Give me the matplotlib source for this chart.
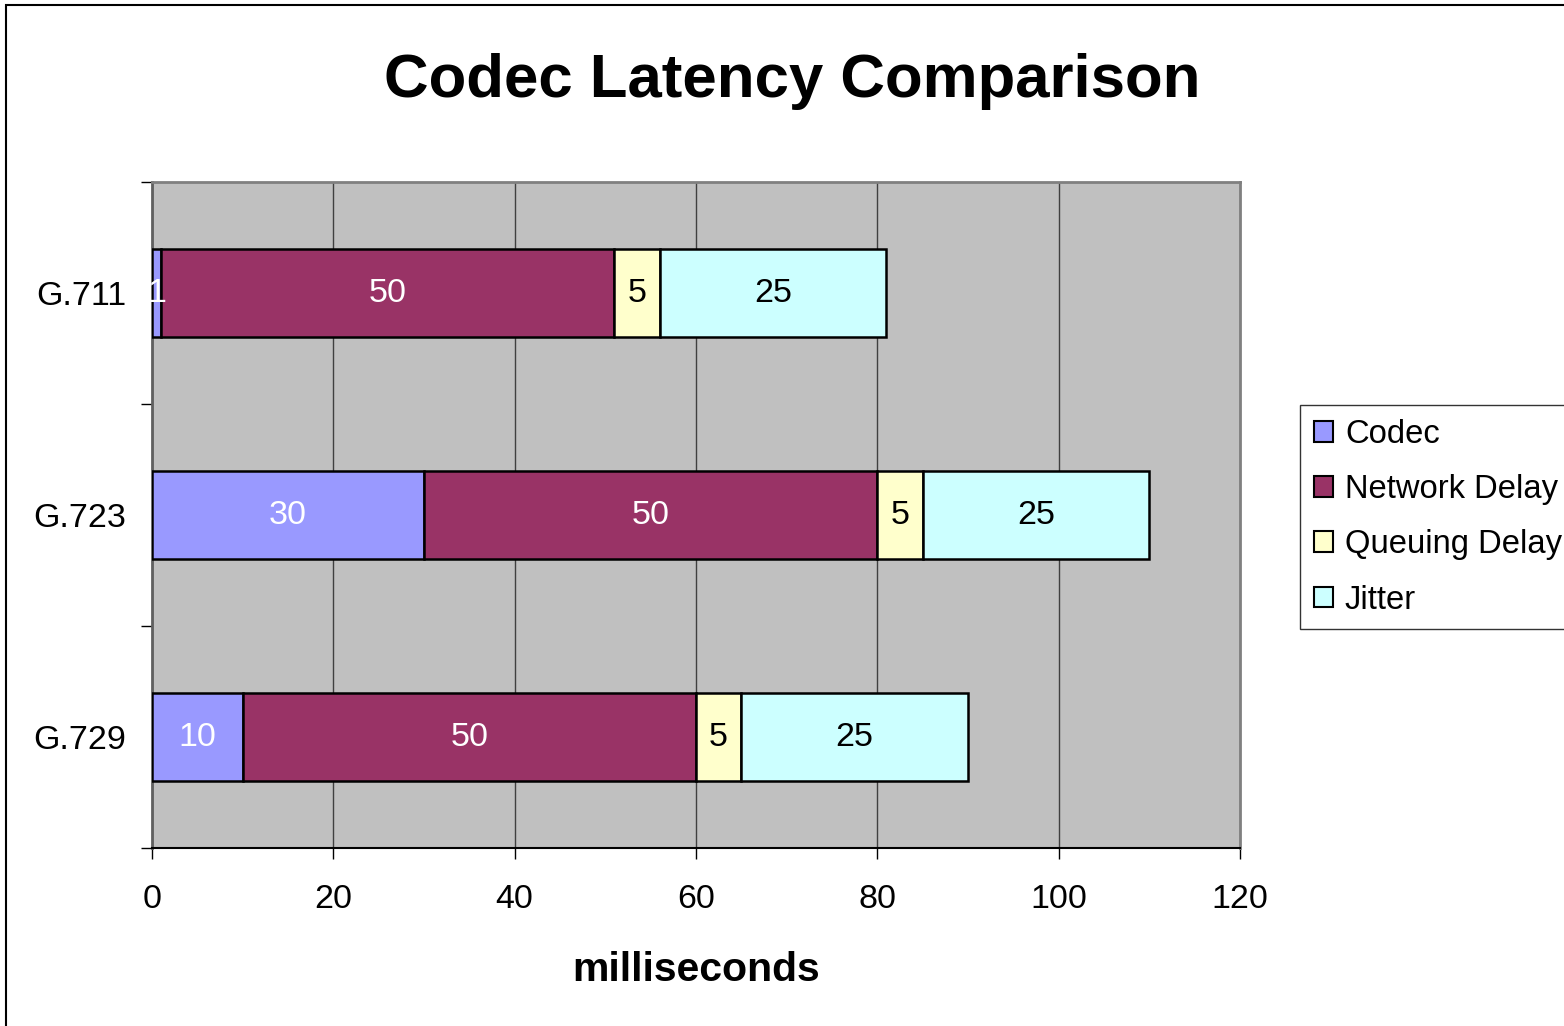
import matplotlib
matplotlib.use("Agg")
import matplotlib.pyplot as plt
from matplotlib.patches import Rectangle, Patch
import numpy as np

plt.rcParams['font.family'] = ['Liberation Sans', 'DejaVu Sans']

categories = ["G.711", "G.723", "G.729"]
series_names = ["Codec", "Network Delay", "Queuing Delay", "Jitter"]
codec = [1, 30, 10]
network = [50, 50, 50]
queuing = [5, 5, 5]
jitter = [25, 25, 25]
colors = ["#9999FF", "#993366", "#FFFFCC", "#CCFFFF"]
text_colors = ["white", "white", "black", "black"]
xticks = [0, 20, 40, 60, 80, 100, 120]

fig = plt.figure(figsize=(15.64, 10.26), dpi=100)
fig.patches.append(Rectangle((6/1564, -0.05), 1.1, 1 - 4.5/1026 + 0.05,
                             transform=fig.transFigure, fill=False,
                             edgecolor="black", linewidth=1.5))
ax = fig.add_axes([152/1564, 1 - 848/1026, (1240-152)/1564, (848-182)/1026])
ax.set_facecolor("#C0C0C0")

ypos = np.array([2, 1, 0])
left = np.zeros(3)
for name, vals, c, tc in zip(series_names, [codec, network, queuing, jitter], colors, text_colors):
    vals = np.array(vals, dtype=float)
    bars = ax.barh(ypos, vals, left=left, height=0.4, color=c, edgecolor="black",
                   linewidth=1.8, label=name, zorder=3)
    for b, v, l in zip(bars, vals, left):
        ax.text(l + v / 2, b.get_y() + b.get_height() / 2, f"{int(v)}",
                ha="center", va="center", color=tc, fontsize=24.5, zorder=4)
    left = left + vals

ax.set_xlim(0, 120)
ax.set_ylim(-0.5, 2.5)
ax.set_xticks(xticks)
ax.set_xticklabels([str(t) for t in xticks], fontsize=24.5)
ax.tick_params(axis="x", direction="out", length=8, width=1, pad=18, colors="black")
ax.set_yticks(ypos)
ax.set_yticklabels(categories, fontsize=24.5)
ax.tick_params(axis="y", which="major", length=0, pad=18.5)
ax.set_yticks([-0.5, 0.5, 1.5, 2.5], minor=True)
ax.tick_params(axis="y", which="minor", direction="out", length=8, width=1)
ax.grid(axis="x", color="#404040", linewidth=1, zorder=0)
ax.set_axisbelow(True)
for s in ["top", "right"]:
    ax.spines[s].set_color("#808080")
    ax.spines[s].set_linewidth(2)
ax.spines["left"].set_color("#606060")
ax.spines["left"].set_linewidth(2)
ax.spines["bottom"].set_color("black")
ax.spines["bottom"].set_linewidth(1.5)

ax.set_xlabel("milliseconds", fontsize=29.5, fontweight="bold", labelpad=26)
fig.text(792/1564, 1 - 82/1026, "Codec Latency Comparison", fontsize=44.5,
         fontweight="bold", ha="center", va="center")

handles = [Patch(facecolor=c, edgecolor="black", linewidth=1.5) for c in colors]
leg = fig.legend(handles, series_names, loc="upper left",
                 bbox_to_anchor=(1300/1564, 1 - 405/1026), fontsize=23.6,
                 frameon=True, fancybox=False, edgecolor="black",
                 handlelength=0.6, handleheight=0.6, handletextpad=0.35,
                 labelspacing=0.74, borderpad=0.42, borderaxespad=0)
leg.get_frame().set_linewidth(1)

fig.savefig("out.png", dpi=100)
